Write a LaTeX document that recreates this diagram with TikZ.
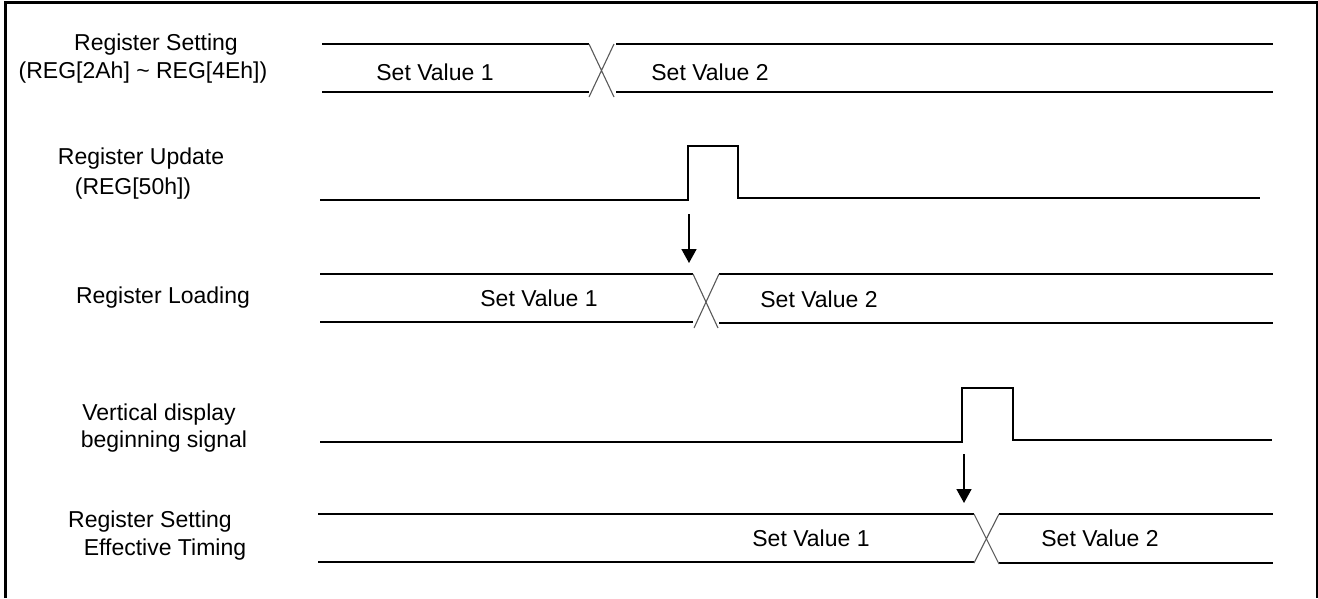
\documentclass[tikz,border=0pt]{standalone}
\usepackage{fontspec}
\setmainfont{Liberation Sans}
\usetikzlibrary{arrows.meta}
\begin{document}
\begin{tikzpicture}[x=1pt,y=-1pt,
  lbl/.style={inner sep=0pt,font=\fontsize{23}{27}\selectfont,align=center},
  sig/.style={line width=1.6pt},
  xing/.style={line width=1.1pt,black!65},
  frame/.style={line width=3pt},
  trig/.style={line width=1.6pt,-{Triangle[width=15pt,length=14pt]}}]
\useasboundingbox (0,0) rectangle (1318,598);
% outer frame (open at the bottom)
\draw[frame] (5,598) -- (5,2) -- (1317,2) -- (1317,598);

% ---- row labels
\node[lbl] (l1a) at (156,45) {Register Setting};
\node[lbl] (l1b) at (143,73) {(REG[2Ah] \textasciitilde{} REG[4Eh])};
\node[lbl] (l2a) at (141,159) {Register Update};
\node[lbl] (l2b) at (133,189) {(REG[50h])};
\node[lbl] (l3)  at (163,298) {Register Loading};
\node[lbl] (l4a) at (159,415) {Vertical display};
\node[lbl] (l4b) at (164,442) {beginning signal};
\node[lbl] (l5a) at (150,522) {Register Setting};
\node[lbl] (l5b) at (165,550) {Effective Timing};

% ---- row 1: register setting bus
\draw[sig] (322,44) -- (589,44) (322,92) -- (589,92);
\draw[sig] (616,44) -- (1273,44) (616,92) -- (1273,92);
\draw[xing] (589,44) -- (614,97) (614,44) -- (589,97);
\node[lbl] (v11) at (435,72) {Set Value 1};
\node[lbl] (v12) at (710,72) {Set Value 2};

% ---- row 2: register update pulse
\draw[sig] (320,200) -- (688,200) -- (688,146) -- (738,146) -- (738,198) -- (1260,198);
\coordinate (a1s) at (689,214);
\coordinate (a1e) at (689,263);
\draw[trig] (a1s) -- (a1e);

% ---- row 3: register loading bus
\draw[sig] (320,274) -- (693,274) (320,322) -- (693,322);
\draw[sig] (719,274) -- (1273,274) (719,323) -- (1273,323);
\draw[xing] (693,274) -- (718,328) (719,274) -- (694,328);
\node[lbl] (v31) at (539,298) {Set Value 1};
\node[lbl] (v32) at (819,299) {Set Value 2};

% ---- row 4: vertical display beginning pulse
\draw[sig] (320,442) -- (962,442) -- (962,388) -- (1013,388) -- (1013,440) -- (1272,440);
\coordinate (a2s) at (964,454);
\coordinate (a2e) at (964,503);
\draw[trig] (a2s) -- (a2e);

% ---- row 5: effective timing bus
\draw[sig] (318,514) -- (974,514) (318,562) -- (974,562);
\draw[sig] (999,514) -- (1273,514) (999,563) -- (1273,563);
\draw[xing] (974,514) -- (999,564) (999,514) -- (974,563);
\node[lbl] (v51) at (811,538) {Set Value 1};
\node[lbl] (v52) at (1100,538) {Set Value 2};
\end{tikzpicture}
\end{document}
